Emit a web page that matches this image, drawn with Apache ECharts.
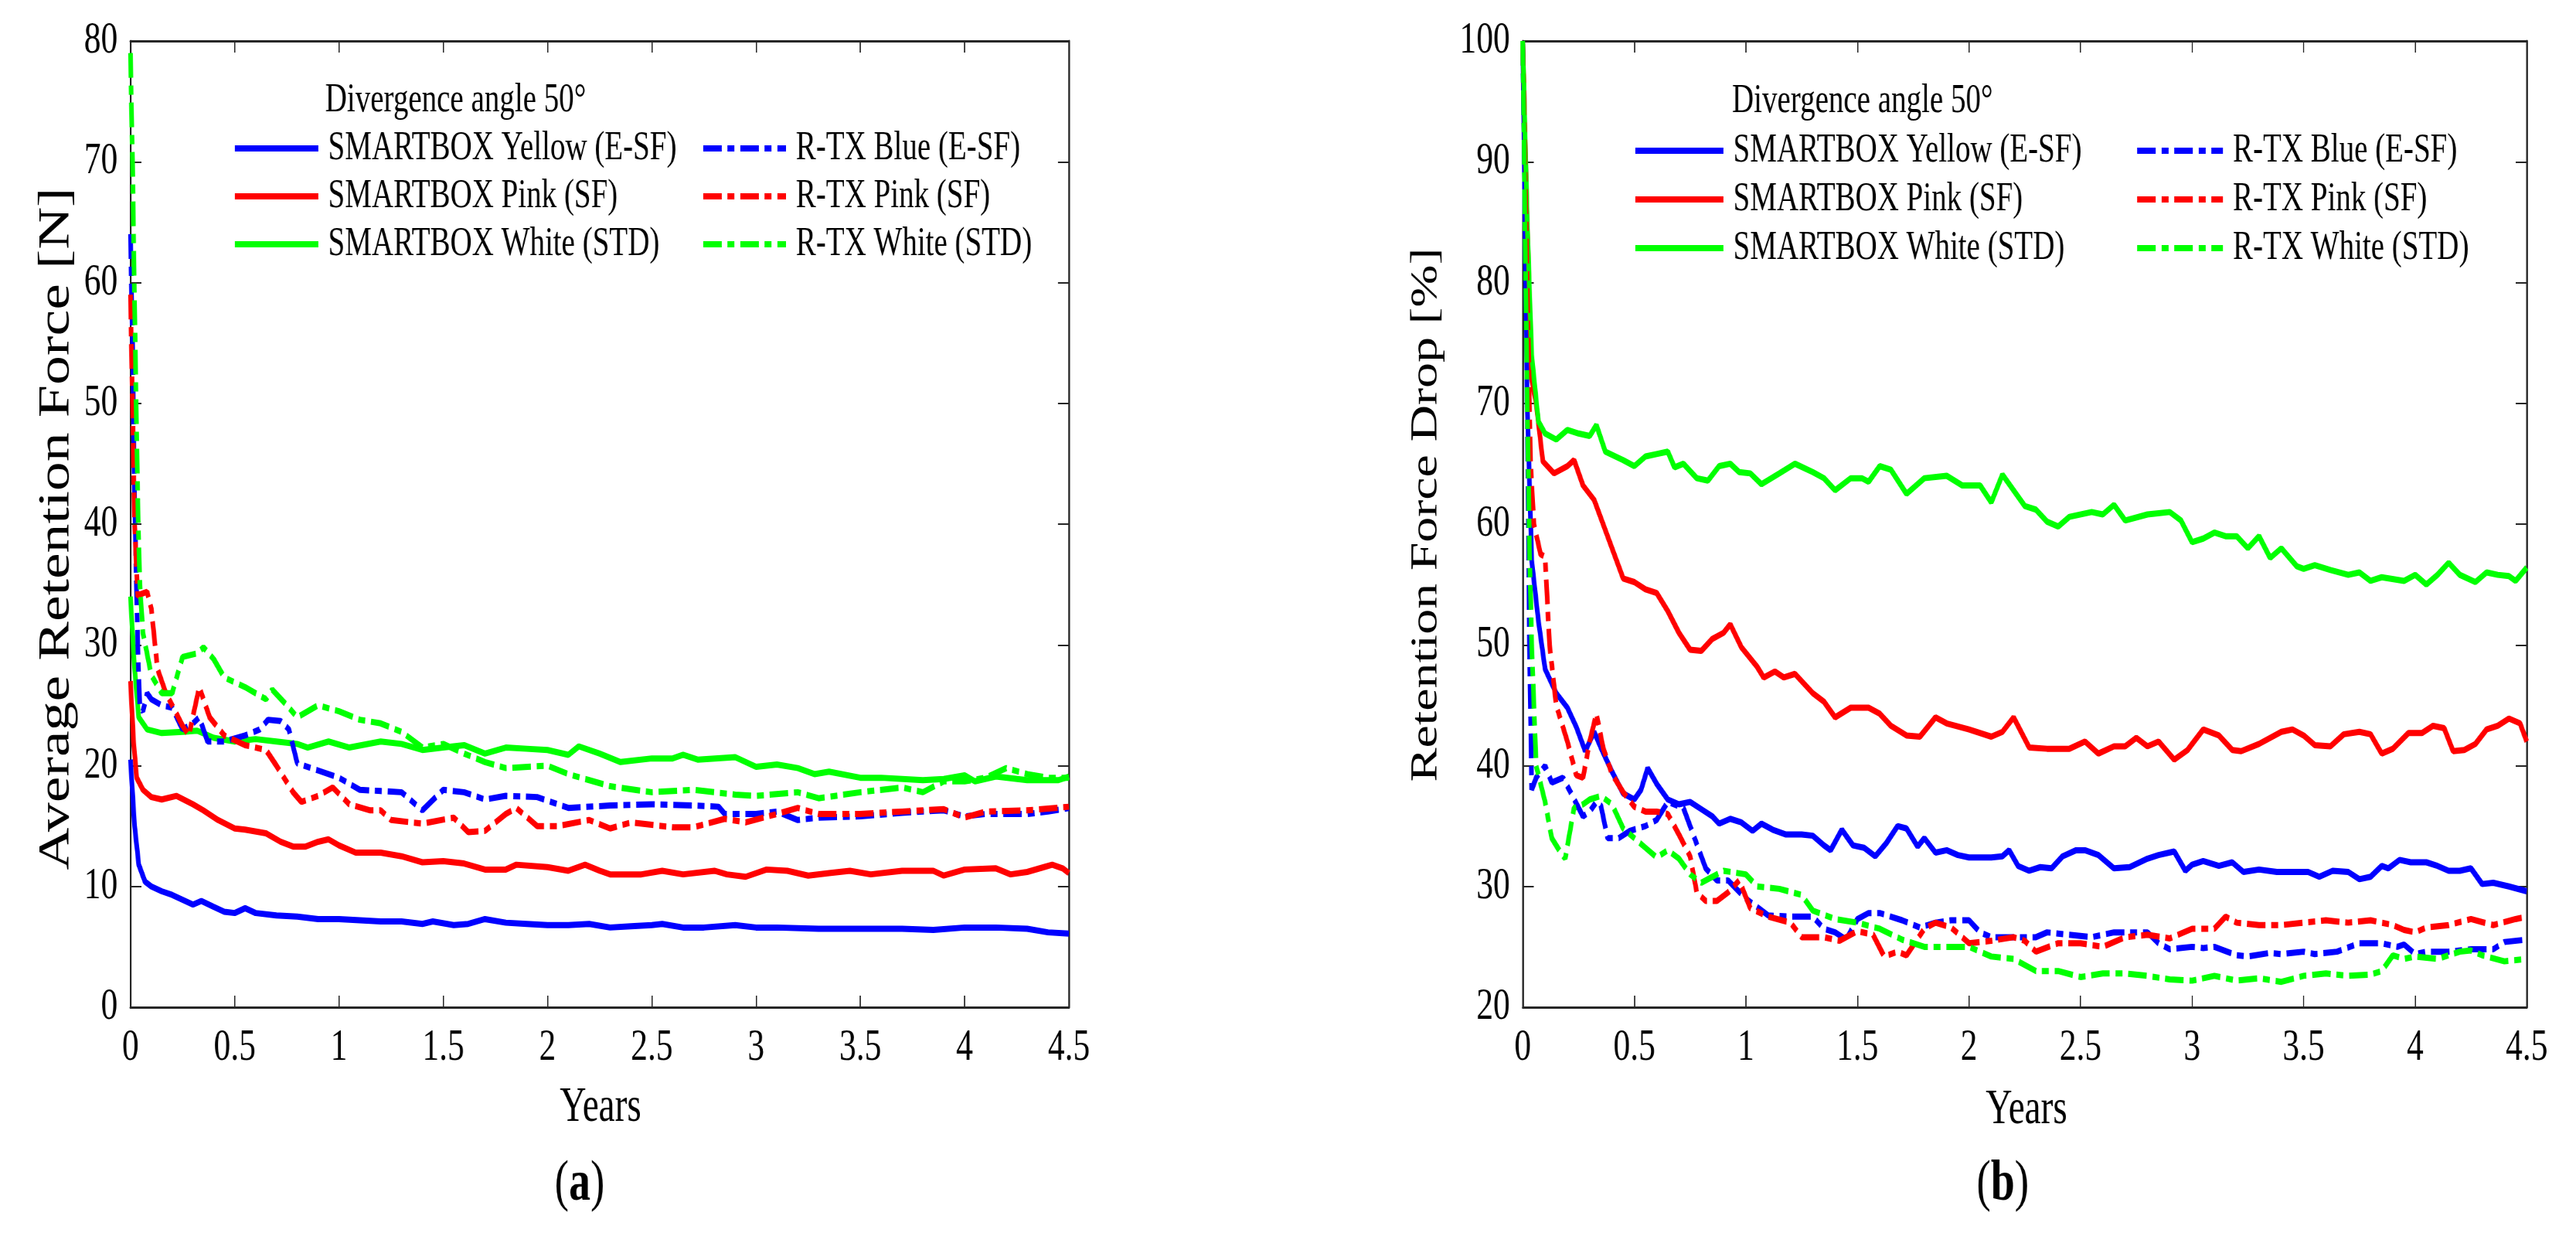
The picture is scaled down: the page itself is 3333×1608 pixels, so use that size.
<!DOCTYPE html>
<html>
<head>
<meta charset="utf-8">
<script src="https://cdn.jsdelivr.net/npm/echarts@6/dist/echarts.min.js"></script>
<style>
html,body{margin:0;padding:0;background:#fff;overflow:hidden;}
#outer{width:3333px;height:1608px;overflow:hidden;position:relative;}
#chart{width:4444px;height:1608px;transform:scaleX(0.75);transform-origin:0 0;}
</style>
</head>
<body>
<div id="outer"><div id="chart"></div></div>
<script>
// ---------- DATA ----------
const xTicks = [0, 0.5, 1, 1.5, 2, 2.5, 3, 3.5, 4, 4.5];
const yTicksA = [0, 10, 20, 30, 40, 50, 60, 70, 80];
const yTicksB = [20, 30, 40, 50, 60, 70, 80, 90, 100];
const seriesNames = ['SMARTBOX Yellow (E-SF)', 'SMARTBOX Pink (SF)', 'SMARTBOX White (STD)',
                     'R-TX Blue (E-SF)', 'R-TX Pink (SF)', 'R-TX White (STD)'];

// (a) Average Retention Force [N]
const aYellowSB = [[0,20.5],[0.02,15],[0.04,11.8],[0.07,10.4],[0.1,10.0],[0.15,9.6],[0.2,9.3],[0.25,8.9],[0.3,8.5],[0.34,8.8],[0.4,8.3],[0.45,7.9],[0.5,7.8],[0.55,8.2],[0.6,7.8],[0.7,7.6],[0.8,7.5],[0.9,7.3],[1.0,7.3],[1.1,7.2],[1.2,7.1],[1.3,7.1],[1.4,6.9],[1.45,7.1],[1.55,6.8],[1.62,6.9],[1.7,7.3],[1.8,7.0],[1.9,6.9],[2.0,6.8],[2.1,6.8],[2.2,6.9],[2.3,6.6],[2.4,6.7],[2.5,6.8],[2.55,6.9],[2.65,6.6],[2.75,6.6],[2.9,6.8],[3.0,6.6],[3.1,6.6],[3.3,6.5],[3.5,6.5],[3.7,6.5],[3.85,6.4],[4.0,6.6],[4.15,6.6],[4.3,6.5],[4.4,6.2],[4.5,6.1]];
const aPinkSB = [[0,27],[0.015,22],[0.03,19],[0.06,18],[0.1,17.4],[0.15,17.2],[0.22,17.5],[0.3,16.8],[0.35,16.3],[0.42,15.5],[0.5,14.8],[0.55,14.7],[0.65,14.4],[0.72,13.7],[0.78,13.3],[0.84,13.3],[0.9,13.7],[0.95,13.9],[1.0,13.4],[1.08,12.8],[1.2,12.8],[1.3,12.5],[1.4,12.0],[1.5,12.1],[1.6,11.9],[1.7,11.4],[1.8,11.4],[1.85,11.8],[2.0,11.6],[2.1,11.3],[2.18,11.8],[2.25,11.3],[2.3,11.0],[2.45,11.0],[2.55,11.3],[2.65,11.0],[2.8,11.3],[2.86,11.0],[2.95,10.8],[3.05,11.4],[3.15,11.3],[3.25,10.9],[3.35,11.1],[3.45,11.3],[3.55,11.0],[3.7,11.3],[3.85,11.3],[3.9,10.9],[4.0,11.4],[4.15,11.5],[4.22,11.0],[4.3,11.2],[4.38,11.6],[4.42,11.8],[4.47,11.5],[4.5,11.1]];
const aWhiteSB = [[0,34],[0.02,28],[0.04,24],[0.08,23],[0.15,22.7],[0.25,22.8],[0.32,22.9],[0.4,22.3],[0.5,22.0],[0.6,22.2],[0.7,22.0],[0.8,21.8],[0.85,21.5],[0.95,22.0],[1.05,21.5],[1.2,22.0],[1.3,21.8],[1.4,21.3],[1.5,21.5],[1.6,21.7],[1.7,21.0],[1.8,21.5],[1.9,21.4],[2.0,21.3],[2.1,20.9],[2.15,21.6],[2.25,21.0],[2.35,20.3],[2.5,20.6],[2.6,20.6],[2.65,20.9],[2.72,20.5],[2.9,20.7],[3.0,19.9],[3.1,20.1],[3.2,19.8],[3.28,19.3],[3.35,19.5],[3.5,19.0],[3.6,19.0],[3.8,18.8],[3.9,18.9],[4.0,19.2],[4.05,18.7],[4.15,19.1],[4.3,18.8],[4.45,18.8],[4.5,19.1]];
const aBlueRTX = [[0,64],[0.01,55],[0.02,42],[0.035,30],[0.045,24.8],[0.06,24.5],[0.08,26],[0.1,25.5],[0.15,25],[0.2,24.8],[0.25,23],[0.3,23.5],[0.33,24],[0.37,22],[0.45,22],[0.55,22.5],[0.62,23],[0.66,23.8],[0.72,23.7],[0.76,23],[0.8,20.2],[0.9,19.6],[1.0,19],[1.1,18],[1.2,17.9],[1.3,17.8],[1.4,16.3],[1.5,18],[1.6,17.8],[1.7,17.2],[1.8,17.5],[1.95,17.4],[2.05,16.8],[2.1,16.5],[2.3,16.7],[2.5,16.8],[2.7,16.7],[2.82,16.6],[2.85,16.0],[3.0,16.0],[3.1,16.2],[3.2,15.5],[3.3,15.7],[3.5,15.8],[3.7,16.1],[3.9,16.3],[4.0,15.8],[4.1,16.0],[4.3,16.0],[4.4,16.2],[4.5,16.5]];
const aPinkRTX = [[0,59],[0.01,50],[0.02,40],[0.035,34],[0.05,34.2],[0.08,34.4],[0.1,33],[0.13,28],[0.17,26],[0.2,25],[0.25,23.3],[0.28,22.5],[0.33,26.5],[0.38,24],[0.45,22.5],[0.55,21.7],[0.65,21.3],[0.7,20],[0.78,17.8],[0.82,17],[0.9,17.5],[0.97,18.2],[1.05,16.8],[1.15,16.3],[1.2,16.3],[1.25,15.5],[1.4,15.2],[1.55,15.7],[1.62,14.5],[1.7,14.6],[1.8,16],[1.85,16.5],[1.95,15],[2.05,15],[2.2,15.5],[2.3,14.8],[2.4,15.3],[2.6,14.9],[2.7,14.9],[2.85,15.6],[2.95,15.3],[3.1,16],[3.2,16.5],[3.3,16],[3.5,16.0],[3.7,16.2],[3.9,16.4],[4.0,15.7],[4.1,16.2],[4.3,16.3],[4.5,16.6]];
const aWhiteRTX = [[0,79],[0.01,70],[0.02,58],[0.035,42],[0.045,35],[0.06,31],[0.1,27.5],[0.15,26],[0.2,26],[0.25,29],[0.32,29.3],[0.35,29.8],[0.4,28.8],[0.45,27.3],[0.55,26.5],[0.65,25.5],[0.68,26.3],[0.75,25],[0.8,24],[0.9,25],[1.0,24.5],[1.1,23.8],[1.2,23.5],[1.3,22.8],[1.4,21.5],[1.5,21.8],[1.6,21],[1.7,20.3],[1.8,19.8],[2.0,20],[2.1,19.3],[2.3,18.3],[2.5,17.8],[2.7,18],[2.9,17.6],[3.0,17.5],[3.2,17.8],[3.3,17.3],[3.5,17.8],[3.7,18.2],[3.8,17.8],[3.9,18.7],[4.0,18.7],[4.1,19],[4.2,19.8],[4.3,19.3],[4.4,19],[4.5,19]];

// (b) Retention Force Drop [%]
const bYellowSB = [[0,100],[0.01,85],[0.02,70],[0.04,57],[0.07,52],[0.1,48],[0.15,46],[0.2,44.8],[0.24,43.2],[0.28,41.2],[0.32,42.8],[0.35,41.5],[0.4,39.5],[0.45,37.7],[0.5,37.2],[0.53,38],[0.56,39.8],[0.6,38.5],[0.65,37.2],[0.7,36.8],[0.75,37.0],[0.8,36.4],[0.85,35.8],[0.88,35.2],[0.93,35.6],[0.98,35.3],[1.03,34.6],[1.07,35.2],[1.12,34.7],[1.18,34.3],[1.25,34.3],[1.3,34.2],[1.35,33.4],[1.38,33.0],[1.43,34.7],[1.48,33.4],[1.53,33.2],[1.58,32.5],[1.63,33.6],[1.68,35.0],[1.72,34.8],[1.77,33.3],[1.8,34.0],[1.85,32.8],[1.9,33.0],[1.95,32.6],[2.0,32.4],[2.1,32.4],[2.15,32.5],[2.18,33.0],[2.22,31.7],[2.27,31.3],[2.32,31.6],[2.37,31.5],[2.42,32.5],[2.48,33.0],[2.52,33.0],[2.58,32.6],[2.65,31.5],[2.72,31.6],[2.8,32.3],[2.85,32.6],[2.92,32.9],[2.97,31.3],[3.0,31.8],[3.05,32.1],[3.12,31.7],[3.18,32.0],[3.23,31.2],[3.3,31.4],[3.38,31.2],[3.45,31.2],[3.52,31.2],[3.57,30.8],[3.63,31.3],[3.7,31.2],[3.75,30.6],[3.8,30.8],[3.85,31.7],[3.88,31.5],[3.93,32.2],[3.98,32.0],[4.05,32.0],[4.1,31.7],[4.15,31.3],[4.2,31.3],[4.25,31.5],[4.3,30.2],[4.35,30.3],[4.42,30.0],[4.5,29.6]];
const bPinkSB = [[0,100],[0.01,92],[0.02,85],[0.04,72],[0.06,70],[0.09,65.2],[0.14,64.2],[0.2,64.8],[0.23,65.3],[0.27,63.2],[0.32,62],[0.37,59.5],[0.45,55.5],[0.5,55.2],[0.55,54.6],[0.6,54.3],[0.65,52.8],[0.7,51],[0.75,49.6],[0.8,49.5],[0.85,50.5],[0.9,51],[0.93,51.7],[0.98,49.8],[1.05,48.2],[1.08,47.3],[1.13,47.8],[1.17,47.3],[1.22,47.6],[1.3,46],[1.35,45.3],[1.4,44.0],[1.47,44.8],[1.55,44.8],[1.6,44.3],[1.65,43.3],[1.72,42.5],[1.78,42.4],[1.85,44.0],[1.9,43.5],[2.0,43.0],[2.1,42.4],[2.15,42.8],[2.2,44.0],[2.27,41.5],[2.35,41.4],[2.45,41.4],[2.52,42.0],[2.58,41.0],[2.65,41.6],[2.7,41.6],[2.75,42.3],[2.8,41.6],[2.85,42.0],[2.92,40.5],[2.98,41.3],[3.05,43.0],[3.12,42.5],[3.18,41.3],[3.22,41.2],[3.3,41.8],[3.4,42.8],[3.45,43.0],[3.5,42.5],[3.55,41.7],[3.62,41.6],[3.68,42.6],[3.75,42.8],[3.8,42.6],[3.85,41.0],[3.9,41.4],[3.97,42.7],[4.03,42.7],[4.08,43.3],[4.13,43.1],[4.17,41.2],[4.22,41.3],[4.27,41.8],[4.32,43.0],[4.37,43.3],[4.42,43.9],[4.47,43.5],[4.5,42.0]];
const bWhiteSB = [[0,100],[0.02,85],[0.04,74],[0.07,68.5],[0.1,67.5],[0.15,67],[0.2,67.8],[0.25,67.5],[0.3,67.3],[0.33,68.2],[0.37,66],[0.45,65.3],[0.5,64.8],[0.55,65.6],[0.6,65.8],[0.65,66],[0.68,64.7],[0.72,65],[0.78,63.8],[0.83,63.6],[0.88,64.8],[0.93,65],[0.97,64.3],[1.02,64.2],[1.07,63.3],[1.15,64.2],[1.22,65],[1.3,64.3],[1.35,63.8],[1.4,62.8],[1.47,63.8],[1.52,63.8],[1.55,63.5],[1.6,64.8],[1.65,64.5],[1.72,62.5],[1.8,63.8],[1.9,64],[1.97,63.2],[2.05,63.2],[2.1,61.8],[2.15,64.1],[2.2,62.8],[2.25,61.5],[2.3,61.2],[2.35,60.2],[2.4,59.8],[2.45,60.6],[2.55,61.0],[2.6,60.8],[2.65,61.6],[2.7,60.3],[2.8,60.8],[2.9,61.0],[2.95,60.3],[3.0,58.5],[3.05,58.8],[3.1,59.3],[3.15,59.0],[3.2,59.0],[3.25,58.0],[3.3,59.0],[3.35,57.2],[3.4,58.0],[3.47,56.5],[3.5,56.3],[3.55,56.6],[3.62,56.2],[3.7,55.8],[3.75,56.0],[3.8,55.3],[3.85,55.6],[3.95,55.3],[4.0,55.8],[4.05,55.0],[4.1,55.8],[4.15,56.8],[4.2,55.8],[4.27,55.2],[4.32,56.0],[4.37,55.8],[4.42,55.7],[4.45,55.3],[4.5,56.4]];
const bBlueRTX = [[0,100],[0.01,85],[0.02,70],[0.03,50],[0.04,38],[0.06,39],[0.1,40],[0.13,38.6],[0.18,39.0],[0.22,37.6],[0.27,35.8],[0.3,36.2],[0.33,37],[0.35,36.7],[0.38,34.0],[0.43,34.0],[0.48,34.6],[0.55,35.0],[0.6,35.5],[0.65,37.0],[0.72,36.5],[0.78,33.5],[0.82,31.5],[0.87,30.5],[0.92,30.5],[1.0,29.0],[1.05,28.3],[1.1,27.6],[1.2,27.5],[1.3,27.5],[1.35,26.5],[1.4,26.2],[1.45,25.6],[1.5,27.3],[1.55,27.8],[1.6,27.8],[1.7,27.2],[1.78,26.6],[1.85,27.0],[1.92,27.2],[2.0,27.2],[2.05,26.2],[2.1,25.8],[2.2,25.8],[2.3,25.8],[2.35,26.2],[2.45,26.0],[2.55,25.8],[2.65,26.2],[2.8,26.2],[2.85,25.3],[2.9,24.8],[3.0,25.0],[3.05,24.9],[3.1,25.0],[3.2,24.3],[3.25,24.2],[3.35,24.5],[3.4,24.4],[3.5,24.6],[3.55,24.4],[3.65,24.6],[3.75,25.3],[3.85,25.3],[3.92,25.0],[3.95,25.2],[4.0,24.4],[4.05,24.6],[4.15,24.6],[4.25,24.8],[4.35,24.8],[4.4,25.4],[4.5,25.6]];
const bPinkRTX = [[0,100],[0.01,90],[0.02,80],[0.035,65],[0.05,60],[0.08,57.5],[0.1,57.3],[0.12,50],[0.15,45],[0.2,42],[0.24,39.2],[0.27,39],[0.3,42],[0.33,44.3],[0.36,41.5],[0.4,39.3],[0.45,37.8],[0.5,36.6],[0.55,36.2],[0.6,36.2],[0.65,36.0],[0.7,34.3],[0.75,32.5],[0.78,29.5],[0.82,28.8],[0.87,28.8],[0.92,29.5],[0.97,30.5],[1.02,28.2],[1.1,27.5],[1.2,27.0],[1.25,25.8],[1.35,25.8],[1.42,25.5],[1.5,26.3],[1.57,26.0],[1.62,24.2],[1.68,24.6],[1.72,24.3],[1.8,26.5],[1.85,27.0],[1.92,26.6],[2.0,25.3],[2.1,25.5],[2.2,25.8],[2.25,25.5],[2.3,24.6],[2.4,25.3],[2.5,25.3],[2.6,25.0],[2.7,25.8],[2.8,26.0],[2.9,25.7],[3.0,26.5],[3.1,26.5],[3.15,27.5],[3.2,27.0],[3.3,26.8],[3.4,26.8],[3.5,27.0],[3.6,27.2],[3.7,27.0],[3.8,27.2],[3.9,26.8],[3.95,26.4],[4.0,26.2],[4.05,26.6],[4.15,26.8],[4.25,27.3],[4.35,26.8],[4.45,27.3],[4.5,27.5]];
const bWhiteRTX = [[0,100],[0.01,85],[0.02,70],[0.03,58],[0.04,50],[0.06,40],[0.1,37],[0.13,34],[0.17,32.8],[0.19,32.3],[0.23,36.5],[0.27,36.8],[0.3,37.2],[0.35,37.5],[0.4,36.8],[0.45,34.8],[0.5,34.0],[0.55,33.2],[0.6,32.4],[0.65,33.0],[0.7,32.3],[0.75,31.0],[0.8,30.3],[0.85,30.8],[0.9,31.3],[1.0,31.0],[1.05,30.0],[1.15,29.8],[1.25,29.3],[1.3,28.0],[1.4,27.3],[1.5,27.0],[1.6,26.5],[1.7,25.6],[1.8,25.0],[1.9,25.0],[2.0,25.0],[2.1,24.2],[2.2,24.0],[2.3,23.0],[2.4,23.0],[2.5,22.5],[2.6,22.8],[2.7,22.8],[2.8,22.6],[2.9,22.3],[3.0,22.2],[3.1,22.6],[3.2,22.2],[3.3,22.4],[3.4,22.1],[3.5,22.6],[3.6,22.8],[3.7,22.6],[3.8,22.7],[3.85,23.0],[3.9,24.3],[3.95,24.0],[4.0,24.2],[4.1,24.0],[4.2,24.6],[4.25,24.7],[4.3,24.3],[4.4,23.8],[4.5,24.0]];

// ---------- STYLE ----------
const FONT = "'Times New Roman', 'Liberation Serif', serif";
const AX = '#262626';
const colors = ['#0000FF', '#FF0000', '#00FF00', '#0000FF', '#FF0000', '#00FF00'];
const DASHDOT = [32, 10, 12, 10];
const LW = 8;

function xAx(grid, pos) {
  return {
    type: 'value', gridIndex: grid, position: pos, min: 0, max: 4.5, interval: 0.5,
    axisLine: { show: true, onZero: false, lineStyle: { color: AX, width: 3 } },
    axisTick: { show: true, inside: true, length: 15, lineStyle: { color: AX, width: 2 } },
    axisLabel: { show: pos === 'bottom', margin: 24, fontSize: 58, fontFamily: FONT, color: '#000' },
    splitLine: { show: false }
  };
}
function yAx(grid, pos, min, max) {
  return {
    type: 'value', gridIndex: grid, position: pos, min: min, max: max, interval: 10,
    axisLine: { show: true, onZero: false, lineStyle: { color: AX, width: 3 } },
    axisTick: { show: true, inside: true, length: 19, lineStyle: { color: AX, width: 2 } },
    axisLabel: { show: pos === 'left', margin: 22, fontSize: 58, fontFamily: FONT, color: '#000' },
    splitLine: { show: false }
  };
}

const dataA = [aYellowSB, aPinkSB, aWhiteSB, aBlueRTX, aPinkRTX, aWhiteRTX];
const dataB = [bYellowSB, bPinkSB, bWhiteSB, bBlueRTX, bPinkRTX, bWhiteRTX];

const series = [];
[dataA, dataB].forEach(function (set, g) {
  set.forEach(function (d, i) {
    series.push({
      name: seriesNames[i], type: 'line', data: d,
      xAxisIndex: g * 2, yAxisIndex: g * 2,
      symbol: 'none', showSymbol: false, smooth: false, clip: true,
      lineStyle: { color: colors[i], width: LW, type: i < 3 ? 'solid' : DASHDOT },
      itemStyle: { color: colors[i] },
      emphasis: { disabled: true }, animation: false
    });
  });
});

function legend(left, top, names, gap, w) {
  return {
    orient: 'vertical', left: left, top: top, padding: 0, itemGap: gap,
    itemWidth: w, itemHeight: 20, data: names, selectedMode: false,
    itemStyle: { opacity: 0, borderWidth: 0 },
    lineStyle: { width: LW, opacity: 1 },
    textStyle: { fontSize: 52, fontFamily: FONT, color: '#000', padding: [0, 0, 0, 12] }
  };
}

const option = {
  backgroundColor: '#fff',
  animation: false,
  title: [
    { text: 'Divergence angle 50°', left: 561, top: 104, padding: 0,
      textStyle: { fontSize: 52, fontWeight: 'normal', fontFamily: FONT, color: '#000' } },
    { text: 'Divergence angle 50°', left: 2988, top: 105, padding: 0,
      textStyle: { fontSize: 52, fontWeight: 'normal', fontFamily: FONT, color: '#000' } }
  ],
  grid: [
    { left: 225, top: 53, width: 1619, height: 1250, containLabel: false },
    { left: 2627, top: 53, width: 1732, height: 1250, containLabel: false }
  ],
  xAxis: [xAx(0, 'bottom'), xAx(0, 'top'), xAx(1, 'bottom'), xAx(1, 'top')],
  yAxis: [yAx(0, 'left', 0, 80), yAx(0, 'right', 0, 80), yAx(1, 'left', 20, 100), yAx(1, 'right', 20, 100)],
  legend: [
    legend(401, 166, seriesNames.slice(0, 3), 10, 144),
    legend(1209, 166, seriesNames.slice(3, 6), 10, 143),
    legend(2817, 169, seriesNames.slice(0, 3), 11, 152),
    legend(3683, 169, seriesNames.slice(3, 6), 11, 148)
  ],
  graphic: [
    { type: 'text', x: 98, y: 684, rotation: Math.PI / 2,
      style: { text: 'Average Retention Force [N]', fontSize: 76, fontFamily: FONT, fill: '#000', align: 'center', verticalAlign: 'middle' } },
    { type: 'text', x: 2461, y: 666, rotation: Math.PI / 2,
      style: { text: 'Retention Force Drop [%]', fontSize: 66, fontFamily: FONT, fill: '#000', align: 'center', verticalAlign: 'middle' } },
    { type: 'text', x: 1036, y: 1433,
      style: { text: 'Years', fontSize: 63, fontFamily: FONT, fill: '#000', align: 'center', verticalAlign: 'middle' } },
    { type: 'text', x: 3496, y: 1436,
      style: { text: 'Years', fontSize: 63, fontFamily: FONT, fill: '#000', align: 'center', verticalAlign: 'middle' } },
    { type: 'text', x: 1000, y: 1533,
      style: { text: '{p|(}{b|a}{p|)}', align: 'center', verticalAlign: 'middle',
        rich: { p: { fontSize: 74, fontFamily: FONT, fill: '#000' }, b: { fontSize: 74, fontFamily: FONT, fontWeight: 'bold', fill: '#000' } } } },
    { type: 'text', x: 3455, y: 1533,
      style: { text: '{p|(}{b|b}{p|)}', align: 'center', verticalAlign: 'middle',
        rich: { p: { fontSize: 74, fontFamily: FONT, fill: '#000' }, b: { fontSize: 74, fontFamily: FONT, fontWeight: 'bold', fill: '#000' } } } }
  ],
  series: series
};

const chart = echarts.init(document.getElementById('chart'));
chart.setOption(option);
</script>
</body>
</html>
